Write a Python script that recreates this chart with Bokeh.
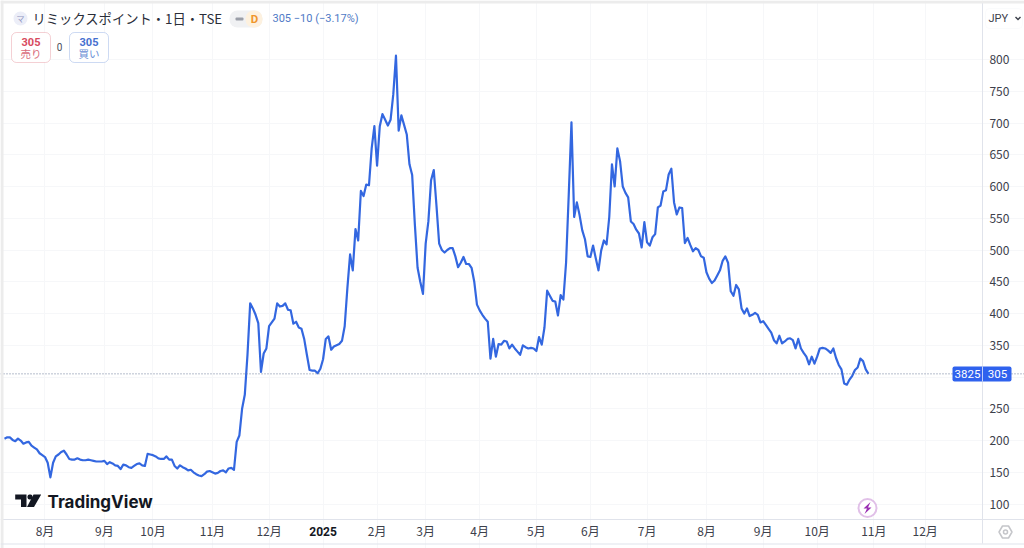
from bokeh.embed import file_html
from bokeh.models import (BoxAnnotation, FixedTicker, Label, PolyAnnotation,
                          Span)
from bokeh.plotting import figure
from bokeh.resources import INLINE

# daily close, one value per trading day
close = [
    203, 205, 205, 201, 199, 203, 200, 195, 197, 198, 192, 189, 186, 180, 177, 174,
    165, 142, 165, 175, 178, 182, 184, 178, 171, 170, 170, 172, 170, 169, 169, 170,
    169, 168, 167, 167, 167, 168, 163, 166, 164, 161, 160, 155, 162, 161, 158, 157,
    160, 163, 164, 161, 160, 179, 178, 177, 175, 172, 171, 171, 175, 170, 170, 160,
    156, 161, 158, 156, 153, 154, 150, 147, 145, 144, 147, 151, 152, 150, 148, 149,
    152, 153, 150, 156, 157, 154, 198, 208, 250, 272, 335, 416, 408, 398, 385, 308,
    337, 345, 380, 386, 392, 416, 411, 412, 416, 406, 405, 384, 387, 378, 376, 360,
    335, 311, 310, 310, 306, 313, 328, 360, 364, 343, 348, 350, 352, 357, 380, 440,
    493, 468, 533, 515, 593, 585, 603, 602, 660, 695, 633, 695, 714, 705, 696, 705,
    745, 806, 688, 712, 697, 682, 635, 618, 540, 472, 450, 431, 510, 545, 610, 626,
    570, 510, 500, 496, 500, 503, 503, 490, 473, 480, 489, 478, 478, 472, 450, 414,
    405, 398, 392, 387, 329, 360, 332, 352, 351, 357, 356, 345, 351, 345, 340, 335,
    350, 347, 345, 346, 345, 341, 363, 351, 378, 436, 428, 420, 419, 397, 429, 422,
    480, 588, 701, 552, 575, 555, 531, 517, 490, 489, 507, 487, 468, 499, 515, 509,
    552, 635, 600, 660, 640, 600, 590, 583, 545, 541, 532, 526, 504, 544, 512, 507,
    520, 525, 567, 570, 592, 594, 619, 628, 575, 556, 567, 566, 511, 519, 508, 498,
    503, 500, 490, 488, 465, 455, 448, 452, 460, 468, 483, 490, 480, 435, 428, 445,
    438, 408, 400, 408, 396, 398, 401, 398, 386, 388, 382, 376, 370, 358, 353, 365,
    353, 356, 360, 361, 358, 345, 360, 345, 338, 332, 320, 332, 321, 332, 345, 346,
    345, 342, 338, 345, 330, 319, 312, 290, 288, 296, 302, 311, 315, 329, 325, 312,
    305,
]
month_bars = [15, 37, 55, 77, 98, 118, 138, 156, 176, 197, 217, 238, 260, 281, 301, 322, 341]
month_labels = ["8月", "9月", "10月", "11月", "12月", "", "2月", "3月", "4月", "5月",
                "6月", "7月", "8月", "9月", "10月", "11月", "12月"]
year_bar = 118
year_label = "2025"
price_ticks = [100, 150, 200, 250, 300, 350, 400, 450, 500, 550, 600, 650, 700, 750, 800]
price_labels = {v: str(v) for v in price_ticks if v != 300}
price_labels[300] = ""
last_price = 305
volume_label = "3825"

JP = "Noto Sans CJK JP"
W, H = 1024, 548

# the frame fills the canvas, axes sit inside it at fixed spots
x_start, x_end = -1.48, 377.8
y_start, y_end = 30.0, 892.9
axis_bar = 362.2
axis_price = 75.6

p = figure(width=W, height=H, output_backend="svg", toolbar_location=None,
           x_range=(x_start, x_end), y_range=(y_start, y_end), y_axis_location="right",
           min_border_left=0, min_border_top=0, min_border_right=0, min_border_bottom=0)
p.outline_line_color = None
p.background_fill_color = "white"

p.xaxis.fixed_location = axis_price
p.yaxis.fixed_location = axis_bar
p.xaxis.bounds = (x_start, x_end)
p.yaxis.bounds = (38, y_end)
p.xaxis.ticker = FixedTicker(ticks=month_bars)
p.xaxis.major_label_overrides = dict(zip(month_bars, month_labels))
p.yaxis.ticker = FixedTicker(ticks=price_ticks)
p.yaxis.major_label_overrides = price_labels
for ax in (p.xaxis, p.yaxis):
    ax.axis_line_color = "#e0e3eb"
    ax.major_tick_line_color = None
    ax.minor_tick_line_color = None
    ax.major_tick_out = 0
    ax.major_tick_in = 0
    ax.minor_tick_out = 0
    ax.minor_tick_in = 0
    ax.major_label_text_color = "#3c404b"
    ax.major_label_text_font = JP
    ax.major_label_text_font_size = "12px"
p.xaxis.major_label_standoff = 2
p.yaxis.major_label_standoff = 7
p.xgrid.ticker = FixedTicker(ticks=month_bars)
p.ygrid.ticker = FixedTicker(ticks=price_ticks)
p.xgrid.bounds = (axis_price, y_end)
p.ygrid.bounds = (x_start, axis_bar)
p.grid.grid_line_color = "#f6f7f9"
p.grid.grid_line_width = 1

p.add_layout(Span(location=last_price, dimension="width", line_color="#6b7a99",
                  line_width=1, line_dash=[1, 2]))
p.line(list(range(len(close))), close, line_color="#3367e0", line_width=2.2,
       line_join="round")


def text(x, y, s, size=12, color="#131722", font=JP, weight="normal", align="left"):
    p.add_layout(Label(x=x, y=y, x_units="canvas", y_units="canvas", text=s,
                       text_font=font, text_font_size=f"{size}px", text_color=color,
                       text_font_style=weight, text_align=align, text_baseline="middle",
                       level="overlay"))


def box(l, r, t, b, fill="white", line=None, radius=0, width=1, alpha=1):
    p.add_layout(BoxAnnotation(left=l, right=r, top=t, bottom=b,
                               left_units="canvas", right_units="canvas",
                               top_units="canvas", bottom_units="canvas",
                               fill_color=fill, fill_alpha=alpha, line_color=line,
                               line_width=width, border_radius=radius, level="overlay"))


def poly(xs, ys, fill=None, line=None, width=1):
    p.add_layout(PolyAnnotation(xs=xs, ys=ys, xs_units="canvas", ys_units="canvas",
                                fill_color=fill, fill_alpha=1 if fill else 0,
                                line_color=line, line_width=width, level="overlay"))


# window edges of the screenshot
box(0, 3, 0, 548, fill="#ececec")
box(0, 1024, 0, 3, fill="#ececec")
box(0, 1024, 543, 544, fill="#e0e3eb")

# year label is bold, the axis cannot do that per tick
p.add_layout(Label(x=year_bar, y=531, x_units="data", y_units="canvas", text=year_label,
                   text_font="Roboto", text_font_size="12px", text_font_style="bold",
                   text_color="#131722", text_align="center", text_baseline="middle",
                   level="overlay"))

# header
box(13, 27, 11, 25, fill="#eceef8", radius=7)
text(20, 18, "マ", size=8, color="#8f95c0", align="center")
text(32, 18, "リミックスポイント・1日・TSE", size=13.3, color="#2a2e39")
box(229, 262, 10, 27, fill="#f0f1f3", radius=8)
box(245, 262, 10, 27, fill="#fdf1df", radius=8)
box(235, 243, 17, 20, fill="#9a9ea8", radius=1)
text(254, 18, "D", size=11.5, color="#f0962b", font="Roboto", weight="bold", align="center")
text(272, 18, f"{last_price}  −10 (−3.17%)", size=11, color="#4f7ac6", font="Roboto")

# sell / buy buttons
box(11, 50, 32, 62, fill="white", line="#d9626f", radius=5)
text(30.5, 41, str(last_price), size=11, color="#d84a5e", font="Roboto", weight="bold", align="center")
text(30.5, 53, "売り", size=10.5, color="#d96a7a", align="center")
text(59, 46, "0", size=10, color="#4a4e59", font="Roboto", align="center")
box(69, 108, 32, 62, fill="white", line="#5a83d6", radius=5)
text(88.5, 41, str(last_price), size=11, color="#4670cf", font="Roboto", weight="bold", align="center")
text(88.5, 53, "買い", size=10.5, color="#6a8fd6", align="center")

# currency button
box(985, 1022, 8, 28, fill="white", line="#f0f1f4", radius=4)
text(988, 18, "JPY", size=11, color="#3c404b", font="Roboto")
poly([1014.5, 1015.5, 1017.5, 1019.5, 1020.5, 1017.5], [17, 16, 18, 16, 17, 20], fill="#3c404b")

# price tag
box(952, 1011, 366, 381, fill="#2f62ee", radius=2)
box(981.5, 982.5, 366, 381, fill="white", alpha=0.7)
text(967, 373.5, volume_label, size=11.5, color="white", font="Roboto", align="center")
text(997, 373.5, str(last_price), size=11.5, color="white", font="Roboto", align="center")

# logo
poly([14.7, 26, 26, 20.5, 20.5, 14.7], [494, 494, 506.5, 506.5, 499, 499], fill="#131722")
box(27, 32, 494, 499, fill="#131722", radius=2)
poly([33, 40.7, 33.5, 26.5], [494, 494, 506.5, 506.5], fill="#131722")
text(47, 501, "TradingView", size=17, color="#131722", font="Inter", weight="bold")

# lightning badge
box(858, 876, 498.5, 516.5, fill="white", line="#9a2fb3", radius=9, width=2)
poly([870, 863, 866.5, 864, 871, 867.5], [501.5, 508, 508, 513.5, 507, 507], fill="#9a2fb3")

# settings hexagon
poly([998.5, 1002, 1008, 1011.5, 1008, 1002], [531.5, 525.5, 525.5, 531.5, 537.5, 537.5], line="#3c404b", width=1.5)
box(1003, 1007, 529.5, 533.5, fill="white", line="#3c404b", radius=2, width=1.5)

open("out.html", "w").write(file_html(p, INLINE))
